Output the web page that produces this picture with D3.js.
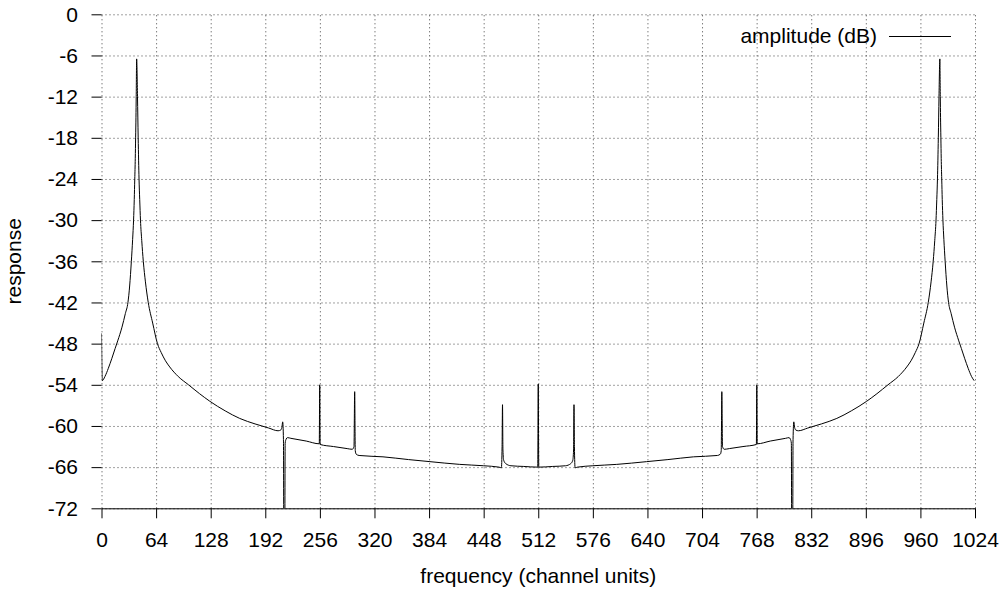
<!DOCTYPE html>
<html lang="en">
	<head>
		<meta charset="utf-8">
		<title>amplitude response</title>
		<script type="text/javascript" src="https://cdn.jsdelivr.net/npm/d3@7"></script>
		<style type="text/css">
			body { margin: 0; background: #fff; }
			svg text { font-family: "Liberation Sans", Arial, sans-serif; fill: #000; }
		</style>
	</head>
	<body>
		<script type="text/javascript">

			// channel positions
			var freq = [0, 0.9, 4, 8, 12, 16, 19, 24, 28, 31, 33, 35, 36.5, 37.6, 38.4, 39, 39.6, 40, 40.4, 40.7,
				41.2, 42.2, 43, 44, 44.8, 45.7, 47.2, 49, 51.5, 54.8, 60, 65.6, 70, 75, 80, 90, 102, 115, 127, 145,
				162, 180, 196, 207, 210, 211.5, 212.4, 213.3, 214, 214.6, 215.3, 216.5, 218, 222, 240, 255.3, 255.8, 256.3,
				272, 288, 294, 296, 296.8, 297.5, 298.5, 302, 330, 360, 385, 420, 448, 466, 468.8, 469.6, 470.1,
				470.6, 471.5, 474, 480, 495, 511.4, 512, 512.6, 529, 544, 550, 552.5, 553.4, 553.9, 554.4, 555.2,
				558, 576, 604, 639, 664, 694, 722, 725.5, 726.5, 727.2, 728, 730, 736, 752, 767.7, 768.2, 768.7,
				784, 802, 806, 807.5, 808.7, 809.4, 810, 810.7, 811.6, 812.5, 814, 817,
				828, 844, 862, 879, 897, 909, 922, 934, 944, 949, 954, 958.4, 964, 969.2, 972.5, 975, 976.8, 978.3,
				979.2, 980, 981, 981.8, 982.8, 983.3, 983.6, 984, 984.4, 985, 985.6, 986.4, 987.5, 989, 991, 993,
				996, 1000, 1005, 1008, 1012, 1016, 1020, 1023];

			// amplitude in dB at each channel
			var amp = [-46.5, -53.4, -52.8, -51.6, -50.2, -48.7, -47.6, -45.6, -43.6, -42, -39.6, -36, -32.8, -30, -27, -24, -21, -18, -15, -12,
				-6.5, -12, -18, -24, -27, -30, -33, -36, -39, -42, -45, -48, -49.3, -50.5, -51.4, -52.8, -54, -55.3, -56.4, -57.8,
				-58.9, -59.7, -60.3, -60.7, -60.6, -60.2, -59.4, -62, -90, -90, -62.5, -61.9, -61.7, -61.8, -62.2, -62.6, -54, -62.7,
				-63, -63.3, -63.4, -63, -55, -63.6, -64.1, -64.3, -64.5, -64.9, -65.2, -65.6, -65.8, -66, -66.1, -63, -56.9,
				-63.5, -65, -65.5, -65.8, -65.9, -66, -53.9, -66, -65.9, -65.8, -65.5, -65, -63.5, -56.9, -63, -66.1,
				-66, -65.8, -65.6, -65.2, -64.9, -64.5, -64.3, -64.1, -63.6, -55, -63, -63.4, -63.3, -63, -62.7, -54, -62.6,
				-62.2, -61.8, -61.7, -61.9, -62.5, -90, -90, -62, -59.4, -60.2, -60.6, -60.7,
				-60.3, -59.7, -58.9, -57.8, -56.4, -55.3, -54, -52.8, -51.4, -50.5, -49.3, -48, -45, -42, -39, -36, -33, -30,
				-27, -24, -18, -12, -6.5, -12, -15, -18, -21, -24, -27, -30, -32.8, -36, -39.6, -42,
				-43.6, -45.6, -47.6, -48.7, -50.2, -51.6, -52.8, -53.4];

			var xTicks = [0, 64, 128, 192, 256, 320, 384, 448, 512, 576, 640, 704, 768, 832, 896, 960, 1024];
			var yTicks = [0, -6, -12, -18, -24, -30, -36, -42, -48, -54, -60, -66, -72];

			var w = 1007;
			var h = 601;
			var plotLeft = 101.5, plotRight = 975, plotTop = 14.3, plotBottom = 508.3;
			var fontSize = 21;

			// plain hyphen minus like the original, not the unicode minus
			var fmt = function(d) { return String(d); };

			var x = d3.scaleLinear().domain([0, 1024]).range([plotLeft, plotRight]);
			var y = d3.scaleLinear().domain([-72, 0]).range([plotBottom, plotTop]);

			var svg = d3.select("body")
						.append("svg")
						.attr("width", w)
						.attr("height", h);

			svg.append("clipPath")
				.attr("id", "plotclip")
				.append("rect")
				.attr("x", plotLeft)
				.attr("y", plotTop)
				.attr("width", plotRight - plotLeft)
				.attr("height", plotBottom - plotTop);

			// dotted grid
			var gridX = svg.append("g")
				.attr("transform", "translate(0," + plotBottom + ")")
				.call(d3.axisBottom(x).tickValues(xTicks).tickSize(-(plotBottom - plotTop)).tickFormat(""));
			var gridY = svg.append("g")
				.attr("transform", "translate(" + plotLeft + ",0)")
				.call(d3.axisLeft(y).tickValues(yTicks).tickSize(-(plotRight - plotLeft)).tickFormat(""));
			[gridX, gridY].forEach(function(g) {
				g.select(".domain").remove();
				g.selectAll(".tick line")
					.attr("stroke", "#444")
					.attr("stroke-width", 1)
					.attr("stroke-dasharray", "1,3");
			});

			// y axis: ticks only, no spine
			var yAxis = svg.append("g")
				.attr("transform", "translate(" + plotLeft + ",0)")
				.call(d3.axisLeft(y).tickValues(yTicks).tickSize(10).tickPadding(13.5).tickFormat(fmt));
			yAxis.select(".domain").remove();

			// x axis with solid spine
			var xAxis = svg.append("g")
				.attr("transform", "translate(0," + plotBottom + ")")
				.call(d3.axisBottom(x).tickValues(xTicks).tickSizeInner(10).tickSizeOuter(0).tickPadding(13.5).tickFormat(fmt));

			[xAxis, yAxis].forEach(function(g) {
				g.attr("font-family", null).attr("font-size", null);
				g.selectAll("text").style("font-size", fontSize + "px");
				g.selectAll("line, path").attr("stroke", "#000");
			});

			// response curve
			var line = d3.line()
				.curve(d3.curveMonotoneX)
				.x(function(d, i) { return x(freq[i]); })
				.y(function(d) { return y(d); });

			svg.append("path")
				.datum(amp)
				.attr("clip-path", "url(#plotclip)")
				.attr("fill", "none")
				.attr("stroke", "#000")
				.attr("stroke-width", 1)
				.attr("d", line);

			// axis titles
			svg.append("text")
				.attr("x", (plotLeft + plotRight) / 2)
				.attr("y", 583)
				.attr("text-anchor", "middle")
				.style("font-size", fontSize + "px")
				.text("frequency (channel units)");

			svg.append("text")
				.attr("transform", "translate(21," + ((plotTop + plotBottom) / 2) + ") rotate(-90)")
				.attr("text-anchor", "middle")
				.style("font-size", fontSize + "px")
				.text("response");

			// legend
			svg.append("text")
				.attr("x", 877)
				.attr("y", 43)
				.attr("text-anchor", "end")
				.style("font-size", fontSize + "px")
				.text("amplitude (dB)");
			svg.append("line")
				.attr("x1", 889)
				.attr("x2", 951)
				.attr("y1", 36.5)
				.attr("y2", 36.5)
				.attr("stroke", "#000")
				.attr("stroke-width", 1);

		</script>
	</body>
</html>
